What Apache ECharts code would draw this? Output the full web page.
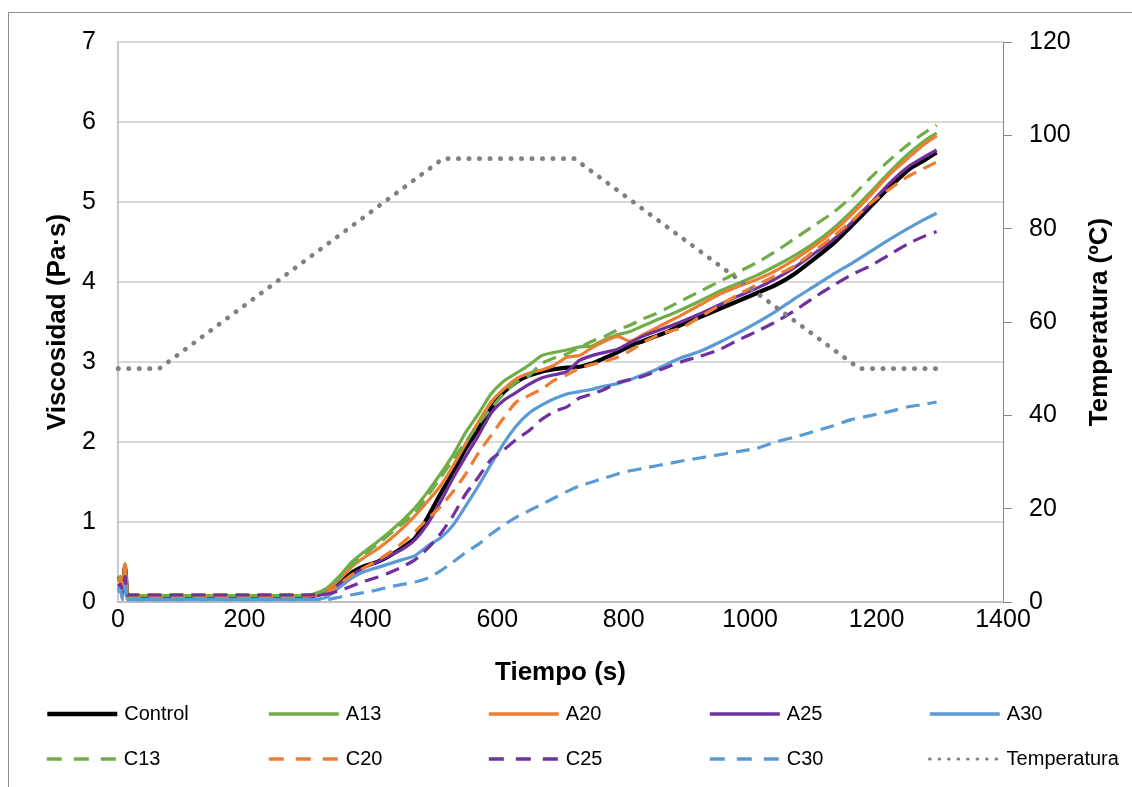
<!DOCTYPE html>
<html>
<head>
<meta charset="utf-8">
<script src="https://cdn.jsdelivr.net/npm/echarts/dist/echarts.min.js"></script>
<style>
  html, body { margin: 0; padding: 0; background: #ffffff; }
  #chart { width: 1132px; height: 787px; }
</style>
</head>
<body>
<div id="chart"></div>
<script>
// Tiempo de ensayo (s) común a todas las curvas de viscosidad
const tiempo = [0, 4, 7, 11, 15, 20, 60, 100, 150, 200, 250,
  290, 310, 330, 350, 370, 390, 410, 430, 450, 470,
  490, 510, 530, 550, 570, 590, 610, 630, 650, 670,
  690, 710, 730, 750, 770, 790, 810, 830, 850, 870, 890,
  920, 950, 980, 1010, 1040, 1070, 1100, 1130, 1160, 1190, 1220, 1250,
  1275, 1295];

// Viscosidad (Pa·s)
const control = [0.28, 0.30, 0.15, 0.45, 0.08, 0.07, 0.07, 0.07, 0.07, 0.07, 0.07,
  0.07, 0.08, 0.12, 0.24, 0.37, 0.45, 0.50, 0.58, 0.68, 0.80,
  1.06, 1.35, 1.62, 1.92, 2.16, 2.42, 2.62, 2.75, 2.83, 2.88,
  2.91, 2.93, 2.94, 2.98, 3.05, 3.12, 3.20, 3.26, 3.32, 3.38, 3.46,
  3.56, 3.66, 3.76, 3.86, 3.96, 4.10, 4.28, 4.47, 4.70, 4.94, 5.18, 5.40,
  5.52, 5.62];
const a13 = [0.30, 0.32, 0.18, 0.40, 0.09, 0.08, 0.08, 0.08, 0.08, 0.08, 0.08,
  0.08, 0.10, 0.17, 0.32, 0.50, 0.63, 0.75, 0.88, 1.02, 1.18,
  1.38, 1.60, 1.84, 2.12, 2.35, 2.60, 2.76, 2.86, 2.96, 3.08,
  3.12, 3.15, 3.19, 3.20, 3.28, 3.34, 3.38, 3.45, 3.52, 3.58, 3.65,
  3.76, 3.88, 3.98, 4.08, 4.20, 4.33, 4.48, 4.66, 4.88, 5.12, 5.37, 5.60,
  5.76, 5.86];
const a20 = [0.25, 0.28, 0.20, 0.48, 0.09, 0.08, 0.08, 0.08, 0.08, 0.08, 0.08,
  0.08, 0.09, 0.15, 0.28, 0.44, 0.56, 0.66, 0.78, 0.92, 1.08,
  1.26, 1.45, 1.70, 1.98, 2.25, 2.50, 2.66, 2.79, 2.86, 2.90,
  2.96, 3.06, 3.08, 3.18, 3.26, 3.32, 3.26, 3.34, 3.42, 3.50, 3.58,
  3.71, 3.84, 3.94, 4.03, 4.14, 4.28, 4.44, 4.62, 4.84, 5.08, 5.34, 5.55,
  5.72, 5.83];
const a25 = [0.20, 0.22, 0.12, 0.30, 0.08, 0.08, 0.08, 0.08, 0.08, 0.08, 0.08,
  0.08, 0.08, 0.11, 0.22, 0.34, 0.43, 0.50, 0.58, 0.66, 0.78,
  0.98, 1.25, 1.55, 1.82, 2.08, 2.36, 2.52, 2.62, 2.72, 2.80,
  2.84, 2.88, 3.02, 3.08, 3.12, 3.16, 3.24, 3.32, 3.38, 3.44, 3.50,
  3.60, 3.71, 3.82, 3.92, 4.04, 4.18, 4.35, 4.52, 4.74, 4.98, 5.23, 5.44,
  5.56, 5.65];
const a30 = [0.15, 0.20, 0.05, 0.25, 0.03, 0.03, 0.03, 0.03, 0.03, 0.03, 0.03,
  0.03, 0.03, 0.06, 0.18, 0.30, 0.38, 0.43, 0.48, 0.53, 0.58,
  0.70, 0.80, 0.96, 1.20, 1.45, 1.72, 1.98, 2.20, 2.36, 2.46,
  2.54, 2.60, 2.63, 2.66, 2.70, 2.73, 2.78, 2.84, 2.90, 2.98, 3.05,
  3.13, 3.24, 3.36, 3.49, 3.63, 3.79, 3.94, 4.09, 4.23, 4.38, 4.53, 4.67,
  4.78, 4.86];
const c13 = [0.26, 0.28, 0.15, 0.38, 0.09, 0.08, 0.08, 0.08, 0.08, 0.08, 0.08,
  0.08, 0.10, 0.16, 0.30, 0.46, 0.60, 0.72, 0.85, 0.98, 1.12,
  1.33, 1.55, 1.78, 2.00, 2.22, 2.42, 2.60, 2.75, 2.83, 2.98,
  3.05, 3.10, 3.18, 3.26, 3.32, 3.40, 3.46, 3.54, 3.60, 3.68, 3.76,
  3.88, 4.00, 4.12, 4.24, 4.38, 4.54, 4.70, 4.86, 5.06, 5.30, 5.52, 5.72,
  5.86, 5.96];
const c20 = [0.27, 0.30, 0.16, 0.44, 0.08, 0.07, 0.07, 0.07, 0.07, 0.07, 0.07,
  0.07, 0.08, 0.11, 0.22, 0.34, 0.43, 0.52, 0.62, 0.74, 0.88,
  1.04, 1.19, 1.38, 1.60, 1.86, 2.08, 2.30, 2.50, 2.58, 2.66,
  2.77, 2.84, 2.92, 2.97, 3.01, 3.06, 3.14, 3.24, 3.32, 3.38, 3.42,
  3.56, 3.70, 3.84, 3.96, 4.08, 4.20, 4.38, 4.56, 4.76, 4.98, 5.16, 5.32,
  5.42, 5.50];
const c25 = [0.20, 0.22, 0.12, 0.32, 0.09, 0.09, 0.09, 0.09, 0.09, 0.09, 0.09,
  0.09, 0.09, 0.10, 0.14, 0.20, 0.26, 0.31, 0.37, 0.44, 0.53,
  0.67, 0.85, 1.08, 1.35, 1.56, 1.78, 1.90, 2.03, 2.14, 2.28,
  2.38, 2.44, 2.55, 2.60, 2.66, 2.74, 2.78, 2.82, 2.88, 2.94, 3.00,
  3.07, 3.15, 3.27, 3.38, 3.50, 3.64, 3.80, 3.95, 4.09, 4.20, 4.34, 4.48,
  4.57, 4.63];
const c30 = [0.12, 0.15, 0.03, 0.20, 0.03, 0.03, 0.03, 0.03, 0.03, 0.03, 0.03,
  0.03, 0.03, 0.03, 0.06, 0.09, 0.12, 0.15, 0.19, 0.22, 0.25,
  0.30, 0.39, 0.50, 0.62, 0.72, 0.85, 0.96, 1.06, 1.14, 1.22,
  1.30, 1.38, 1.45, 1.50, 1.55, 1.60, 1.64, 1.67, 1.70, 1.73, 1.76,
  1.80, 1.84, 1.88, 1.92, 2.00, 2.06, 2.13, 2.20, 2.28, 2.33, 2.38, 2.44,
  2.47, 2.50];

// Perfil de temperatura (ºC)
const tiempoTemp = [0, 65, 514, 722, 1173, 1295];
const temperatura = [50, 50, 95, 95, 50, 50];

// Ejes
const ejeX = { min: 0, max: 1400, interval: 200 };
const ejeVisc = { min: 0, max: 7, interval: 1 };
const ejeTemp = { min: 0, max: 120, interval: 20 };

const FONT = '"Liberation Sans", Arial, sans-serif';
const pares = (xs, ys) => xs.map((t, i) => [t, ys[i]]);
const DASH = [14, 8];
const TRANSPARENTE = 'rgba(0,0,0,0)';

const curvas = [
  { name: 'Control', data: control, color: '#000000', width: 4.2, type: 'solid' },
  { name: 'A13', data: a13, color: '#70ad47', width: 3.2, type: 'solid' },
  { name: 'A20', data: a20, color: '#ed7d31', width: 3.2, type: 'solid' },
  { name: 'A25', data: a25, color: '#7030a0', width: 3.2, type: 'solid' },
  { name: 'A30', data: a30, color: '#5b9bd5', width: 3.2, type: 'solid' },
  { name: 'C13', data: c13, color: '#70ad47', width: 3.2, type: DASH },
  { name: 'C20', data: c20, color: '#ed7d31', width: 3.2, type: DASH },
  { name: 'C25', data: c25, color: '#7030a0', width: 3.2, type: DASH },
  { name: 'C30', data: c30, color: '#5b9bd5', width: 3.2, type: DASH }
];

const series = curvas.map(c => ({
  name: c.name,
  type: 'line',
  yAxisIndex: 0,
  data: pares(tiempo, c.data),
  showSymbol: false,
  symbol: 'none',
  smooth: 0.2,
  color: c.color,
  lineStyle: { color: c.color, width: c.width, type: c.type, cap: 'butt' },
  emphasis: { disabled: true }
}));
series.push({
  name: 'Temperatura',
  type: 'line',
  yAxisIndex: 1,
  data: pares(tiempoTemp, temperatura),
  showSymbol: false,
  symbol: 'none',
  color: '#808080',
  lineStyle: { color: '#808080', width: 4.6, type: [0.5, 10], cap: 'round' },
  emphasis: { disabled: true }
});

// Leyenda en dos filas de cinco columnas
const colX = [45, 267, 487, 708, 928];
const filaY = [704, 749];
const nombres = ['Control', 'A13', 'A20', 'A25', 'A30', 'C13', 'C20', 'C25', 'C30', 'Temperatura'];
const legends = nombres.map((n, i) => {
  let estiloLinea = { width: 3.6, type: 'solid', cap: 'butt' };
  if (i === 0) estiloLinea = { width: 4.6, type: 'solid', cap: 'butt' };
  if (i >= 5 && i < 9) estiloLinea = { width: 3.6, type: [15, 12], cap: 'butt' };
  if (i === 9) estiloLinea = { width: 3.2, type: [0.5, 9], cap: 'round' };
  return {
    data: [n],
    left: colX[i % 5],
    top: filaY[Math.floor(i / 5)],
    orient: 'horizontal',
    padding: 0,
    itemWidth: 70,
    itemHeight: 20,
    itemGap: 0,
    itemStyle: { color: TRANSPARENTE, borderColor: TRANSPARENTE, borderWidth: 0 },
    lineStyle: estiloLinea,
    textStyle: { fontFamily: FONT, fontSize: 20, color: '#000000', padding: [0, 0, 0, 2] }
  };
});

const chart = echarts.init(document.getElementById('chart'), null, { renderer: 'canvas' });
chart.setOption({
  backgroundColor: '#ffffff',
  animation: false,
  textStyle: { fontFamily: FONT },
  grid: { left: 118, right: 129, top: 42, bottom: 185, containLabel: false },
  legend: legends,
  graphic: [{
    type: 'rect',
    shape: { x: 8.5, y: 12.5, width: 1140, height: 800 },
    style: { fill: 'none', stroke: '#8c8c8c', lineWidth: 1 },
    silent: true
  }],
  xAxis: {
    type: 'value',
    min: ejeX.min, max: ejeX.max, interval: ejeX.interval,
    name: 'Tiempo (s)',
    nameLocation: 'middle',
    nameGap: 58,
    nameTextStyle: { fontFamily: FONT, fontSize: 26, fontWeight: 'bold', color: '#000000' },
    axisLine: { show: true, onZero: false, lineStyle: { color: '#bfbfbf', width: 2 } },
    axisTick: { show: false },
    splitLine: { show: false },
    axisLabel: { fontFamily: FONT, fontSize: 25, color: '#000000', margin: 6, formatter: v => String(v) }
  },
  yAxis: [{
    type: 'value',
    position: 'left',
    min: ejeVisc.min, max: ejeVisc.max, interval: ejeVisc.interval,
    name: 'Viscosidad (Pa·s)',
    nameLocation: 'middle',
    nameRotate: 90,
    nameGap: 47,
    nameTextStyle: { fontFamily: FONT, fontSize: 26, fontWeight: 'bold', color: '#000000' },
    axisLine: { show: true, lineStyle: { color: '#c8c8c8', width: 2 } },
    axisTick: { show: false },
    splitLine: { show: true, lineStyle: { color: '#d9d9d9', width: 2 } },
    axisLabel: { fontFamily: FONT, fontSize: 25, color: '#000000', margin: 22, formatter: v => String(v) }
  }, {
    type: 'value',
    position: 'right',
    min: ejeTemp.min, max: ejeTemp.max, interval: ejeTemp.interval,
    name: 'Temperatura (ºC)',
    nameLocation: 'middle',
    nameRotate: 90,
    nameGap: 84,
    nameTextStyle: { fontFamily: FONT, fontSize: 26, fontWeight: 'bold', color: '#000000' },
    axisLine: { show: true, lineStyle: { color: '#868686', width: 1 } },
    axisTick: { show: true, inside: false, length: 9, lineStyle: { color: '#868686', width: 1 } },
    splitLine: { show: false },
    axisLabel: { fontFamily: FONT, fontSize: 25, color: '#000000', margin: 26, formatter: v => String(v) }
  }],
  series: series
});
</script>
</body>
</html>
